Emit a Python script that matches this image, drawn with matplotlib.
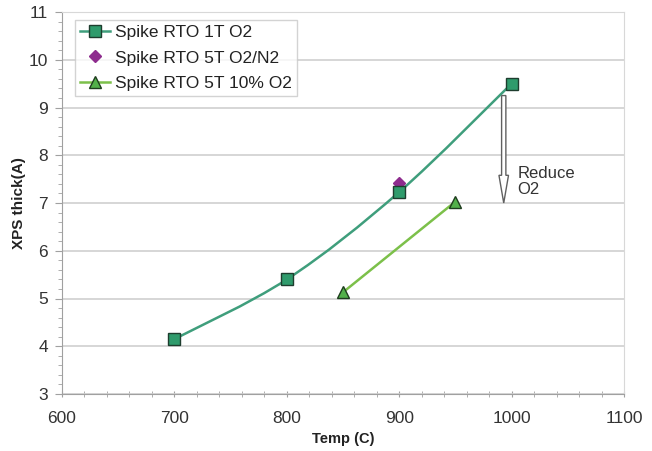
import numpy as np
import matplotlib.pyplot as plt
from matplotlib.path import Path
from matplotlib.patches import PathPatch, FancyArrow
from matplotlib.ticker import MultipleLocator

plt.rcParams['font.family'] = ['Liberation Sans', 'DejaVu Sans']

# data
temp_1t = [700, 800, 900, 1000]
thick_1t = [4.15, 5.40, 7.23, 9.50]

temp_n2 = [900]
thick_n2 = [7.42]

temp_10 = [850, 950]
thick_10 = [5.13, 7.03]


def smooth_path(xs, ys):
    # Excel-like smoothed line: Catmull-Rom turned into cubic Bezier pieces
    pts = np.column_stack([xs, ys]).astype(float)
    verts = [pts[0]]
    codes = [Path.MOVETO]
    n = len(pts)
    for i in range(n - 1):
        p0 = pts[i - 1] if i > 0 else pts[i]
        p1 = pts[i]
        p2 = pts[i + 1]
        p3 = pts[i + 2] if i + 2 < n else pts[i + 1]
        c1 = p1 + (p2 - p0) / 6.0
        c2 = p2 - (p3 - p1) / 6.0
        verts += [c1, c2, p2]
        codes += [Path.CURVE4] * 3
    return Path(verts, codes)


fig = plt.figure(figsize=(6.52, 4.51), dpi=100)
ax = fig.add_axes([62 / 652, 1 - 394 / 451, 562 / 652, 382 / 451])

green = '#3f9e7c'
lgreen = '#7cc04a'

ax.add_patch(PathPatch(smooth_path(temp_1t, thick_1t), facecolor='none',
                       edgecolor=green, lw=1.8, zorder=3))
ax.plot(temp_1t, thick_1t, ls='none', marker='s', ms=8, mfc='#2f9b6c',
        mec='#1e3d2e', mew=1.0, zorder=5)
ax.plot(temp_n2, thick_n2, ls='none', marker='D', ms=6, mfc='#8e2c8e',
        mec='#8e2c8e', zorder=4)
ax.plot(temp_10, thick_10, color=lgreen, lw=1.8, marker='^', ms=8,
        mfc='#52b04a', mec='#1e3d1e', mew=1.0, zorder=5)

# legend proxies
h1, = ax.plot([], [], color=green, lw=1.8, marker='s', ms=8, mfc='#2f9b6c',
              mec='#1e3d2e')
h2, = ax.plot([], [], ls='none', marker='D', ms=6, mfc='#8e2c8e', mec='#8e2c8e')
h3, = ax.plot([], [], color=lgreen, lw=1.8, marker='^', ms=8, mfc='#52b04a',
              mec='#1e3d1e')
leg = ax.legend([h1, h2, h3],
                ['Spike RTO 1T O2', 'Spike RTO 5T O2/N2', 'Spike RTO 5T 10% O2'],
                loc='upper left', bbox_to_anchor=(0.023, 0.98), fontsize=12.5,
                frameon=True, fancybox=False, borderpad=0.3, handlelength=1.7,
                handletextpad=0.3, labelspacing=0.6, borderaxespad=0)
leg.get_frame().set_edgecolor('#c8c8c8')
leg.get_frame().set_linewidth(1.0)
for t in leg.get_texts():
    t.set_color('#222222')

# hollow arrow
ax.add_patch(FancyArrow(993, 9.25, 0, -2.25, width=3.8, head_width=8.5,
                        head_length=0.58, length_includes_head=True,
                        facecolor='white', edgecolor='#606060', lw=1.0, zorder=6))
ax.text(1005, 7.45, 'Reduce\nO2', fontsize=12, color='#333333',
        va='center', ha='left', linespacing=1.15)

ax.set_xlim(600, 1100)
ax.set_ylim(3, 11)
ax.xaxis.set_major_locator(MultipleLocator(100))
ax.xaxis.set_minor_locator(MultipleLocator(20))
ax.yaxis.set_major_locator(MultipleLocator(1))
ax.yaxis.set_minor_locator(MultipleLocator(0.2))
ax.grid(axis='y', which='major', color='#cfcfcf', lw=1.2)
ax.set_axisbelow(True)

for s in ['top', 'right']:
    ax.spines[s].set_color('#d8d8d8')
for s in ['left', 'bottom']:
    ax.spines[s].set_color('#a0a0a0')
ax.tick_params(which='both', colors='#a0a0a0', labelcolor='#333333',
               labelsize=12.5)
ax.tick_params(axis='y', which='major', length=5, direction='out', pad=5)
ax.tick_params(axis='y', which='minor', length=3, direction='out')
ax.tick_params(axis='x', which='major', length=5, direction='inout', pad=10)
ax.tick_params(axis='x', which='minor', length=4, direction='inout')

ax.set_xlabel('Temp (C)', fontsize=10.5, fontweight='bold', color='#222222',
              labelpad=4)
ax.set_ylabel('XPS thick(A)', fontsize=11, fontweight='bold', color='#222222',
              labelpad=2)

fig.savefig('out.png', dpi=100)
